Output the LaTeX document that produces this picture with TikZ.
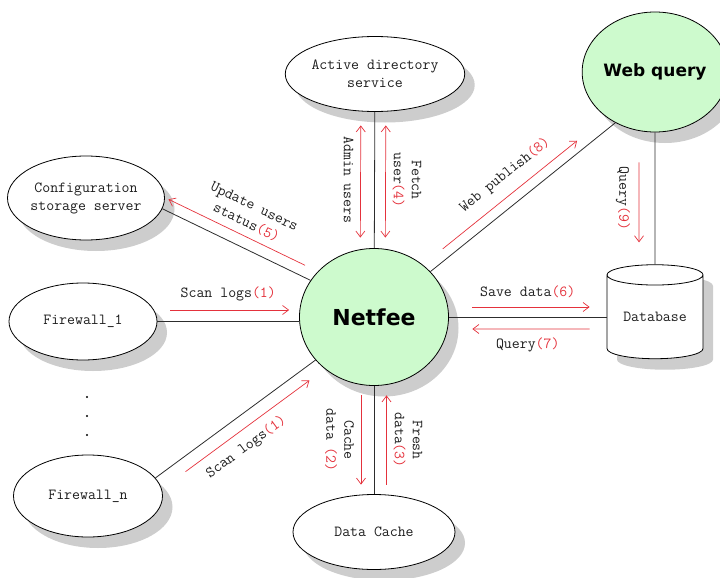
\documentclass[tikz,border=0pt]{standalone}
\usepackage{fontspec}
\usepackage{tikz}
\usetikzlibrary{arrows.meta,shapes.geometric,shadows,positioning,calc}
\newfontfamily\headfont{DejaVu Sans}
\definecolor{nodegreen}{RGB}{205,250,205}
\definecolor{shadowgray}{RGB}{205,205,205}
\definecolor{flowred}{RGB}{228,50,60}
\definecolor{txtgray}{RGB}{30,30,30}
\definecolor{linegray}{RGB}{45,45,45}
\newcommand{\redno}[1]{\textcolor{flowred}{#1}}
\tikzset{
  box/.style={ellipse,draw=black,line width=0.8pt,fill=white,inner sep=0pt,align=center,
    font=\ttfamily\fontsize{15.4}{18}\selectfont,text=txtgray,
    drop shadow={shadow xshift=10pt,shadow yshift=-11pt,fill=shadowgray,opacity=1}},
  hub/.style={box,fill=nodegreen,text=black},
  dbbox/.style={box,cylinder,shape border rotate=90,aspect=0.32,minimum width=96pt,minimum height=94pt},
  link/.style={draw=linegray,line width=0.8pt},
  flow/.style={draw=flowred,line width=0.7pt,-{Straight Barb[length=6pt,width=9pt]}},
  flowboth/.style={flow,{Straight Barb[length=6pt,width=9pt]}-{Straight Barb[length=6pt,width=9pt]}},
  lbl/.style={font=\ttfamily\fontsize{15.4}{18}\selectfont,text=txtgray,inner sep=2pt,align=center}
}

\begin{document}
\begin{tikzpicture}[x=1pt,y=-1pt]
        \useasboundingbox (0,0) rectangle (720,578);
        % nodes
        \node[hub,minimum width=149pt,minimum height=137pt,font=\headfont\bfseries\fontsize{22}{26}\selectfont] (netfee) at (374,317) {Netfee};
        \node[hub,minimum width=127pt,minimum height=120pt,font=\headfont\bfseries\fontsize{17}{20}\selectfont] (webq) at (655,72) {Web query};
        \node[box,minimum width=156pt,minimum height=75pt] (ad) at (375,74) {Active directory\\service};
        \node[box,minimum width=146pt,minimum height=84pt] (config) at (86,198) {Configuration\\storage server};
        \node[box,minimum width=148pt,minimum height=77pt] (fw1) at (83,321.5) {Firewall\_1};
        \node[box,minimum width=149pt,minimum height=82pt] (fwn) at (88,496) {Firewall\_n};
        \node[box,minimum width=162pt,minimum height=75pt] (cache) at (374,532) {Data Cache};
        \node[dbbox] (db) at (655,317) {Database};
        \foreach \y in {397,416,435}
            \fill[black] (87,\y) circle (1.2pt);

        % links
        \path[link] (ad) -- (netfee);
        \path[link] (config.-8) -- (netfee.150);
        \path[link] (fw1.east) -- (fw1.east -| netfee.west);
        \path[link] (fwn.15) -- (netfee);
        \path[link] (cache) -- (netfee);
        \path[link] (netfee) -- (db);
        \path[link] (netfee) -- (webq.232);
        \path[link] (webq) -- (db);

        % flows
        \draw[flow,transform canvas={yshift=11.5pt},shorten <=13pt,shorten >=10pt] (fw1.east) -- (fw1.east -| netfee.west)
            node[lbl,midway,above=7pt] (scan1) {Scan logs\redno{(1)}};
        \draw[flow,transform canvas={xshift=7.6pt,yshift=-10.3pt},shorten <=28pt,shorten >=17pt] (fwn.15) -- (netfee)
            node[lbl,pos=0.46,below=7pt,sloped] (scann) {Scan logs\redno{(1)}};
        \draw[flow,transform canvas={xshift=4.35pt,yshift=10.3pt},shorten <=11pt,shorten >=2pt] (netfee.150) -- (config.-8)
            node[lbl,midway,above=5pt,sloped] (update) {Update users\\status\redno{(5)}};
        \draw[flowboth,transform canvas={xshift=-14pt},shorten <=13.5pt,shorten >=10.5pt] (ad) -- (netfee)
            node[lbl,midway,rotate=-90,anchor=north,outer sep=5pt] (admin) {Admin users};
        \draw[flowboth,transform canvas={xshift=11pt},shorten <=13.5pt,shorten >=10.5pt] (ad) -- (netfee)
            node[lbl,midway,rotate=-90,anchor=south,outer sep=5pt] (fetch) {Fetch\\user\redno{(4)}};
        \draw[flow,transform canvas={xshift=-13pt},shorten <=9.5pt,shorten >=9.5pt] (netfee) -- (cache)
            node[lbl,midway,rotate=-90,anchor=north,outer sep=5pt] (cached) {Cache\\data \redno{(2)}};
        \draw[flow,transform canvas={xshift=12.5pt},shorten <=9.5pt,shorten >=9.5pt] (cache) -- (netfee)
            node[lbl,midway,rotate=-90,anchor=south,outer sep=5pt] (fresh) {Fresh\\data\redno{(3)}};
        \draw[flow,transform canvas={yshift=10pt},shorten <=23.5pt,shorten >=17pt] (netfee) -- (db)
            node[lbl,midway,above=7pt] (save) {Save data\redno{(6)}};
        \draw[flow,transform canvas={yshift=-12pt},shorten <=17pt,shorten >=23.5pt] (db) -- (netfee)
            node[lbl,midway,below=6pt] (query7) {Query\redno{(7)}};
        \draw[flow,transform canvas={xshift=-6.3pt,yshift=7.75pt},shorten <=24pt,shorten >=41pt] (netfee) -- (webq.232)
            node[lbl,midway,above=9pt,sloped] (publish) {Web publish\redno{(8)}};
        \draw[flow,transform canvas={xshift=-16pt},shorten <=30pt,shorten >=22pt] (webq) -- (db)
            node[lbl,midway,rotate=-90,anchor=north,outer sep=7pt] (query9) {Query\redno{(9)}};
\end{tikzpicture}
\end{document}
